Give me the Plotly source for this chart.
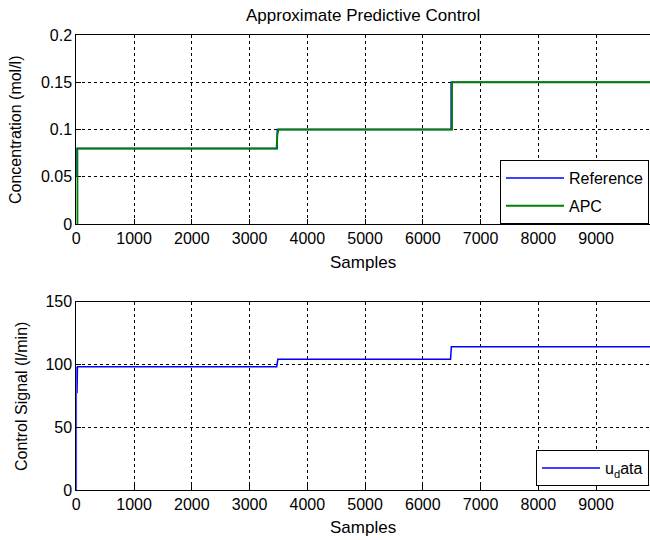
import plotly.graph_objects as go

# ---------------- data ----------------
ref_x = [0, 0, 3480, 3480, 6490, 6490, 10000]
ref_y = [0.05, 0.08, 0.08, 0.1, 0.1, 0.15, 0.15]

apc_x = [0, 18, 18, 3470, 3480, 3500, 6505, 6505, 10000]
apc_y = [0.0, 0.0, 0.08, 0.08, 0.094, 0.1, 0.1, 0.15, 0.15]

u_x = [0, 0, 12, 12, 20, 3470, 3490, 6480, 6495, 10000]
u_y = [0, 98, 98, 77, 98, 98, 104, 104, 114, 114]

x_ticks = [0, 1000, 2000, 3000, 4000, 5000, 6000, 7000, 8000, 9000]
y1_ticks = [0, 0.05, 0.1, 0.15, 0.2]
y1_labels = ["0", "0.05", "0.1", "0.15", "0.2"]
y2_ticks = [0, 50, 100, 150]

# ---------------- layout helpers ----------------
W, H = 650, 540
FONT = "Liberation Sans, Arial, sans-serif"
FS = 16


def px_x(p):
    return p / W


def px_y(p):
    return 1 - p / H


x_left = 76.3
x_right_val = (W - x_left) / 57.75 * 1000  # axis continues past window edge

fig = go.Figure()
fig.add_trace(go.Scatter(x=ref_x, y=ref_y, mode="lines", name="Reference",
                         line=dict(color="#0000ff", width=1.5), legendgroup="g1",
                         xaxis="x", yaxis="y", legend="legend"))
fig.add_trace(go.Scatter(x=apc_x, y=apc_y, mode="lines", name="APC",
                         line=dict(color="#008000", width=2), legendgroup="g2",
                         xaxis="x", yaxis="y", legend="legend"))
fig.add_trace(go.Scatter(x=u_x, y=u_y, mode="lines", name="u<sub>d</sub>ata",
                         line=dict(color="#0000ff", width=1.5),
                         xaxis="x2", yaxis="y2", legend="legend2"))

common_x = dict(
    range=[0, x_right_val], tickvals=x_ticks, ticktext=[str(t) for t in x_ticks],
    showgrid=True, gridcolor="black", griddash="3px,3px", gridwidth=1,
    showline=True, linecolor="black", linewidth=1, mirror=True,
    ticks="inside", ticklen=5, tickcolor="black", zeroline=False,
    tickfont=dict(family=FONT, size=FS, color="black"),
    domain=[px_x(x_left), 1], layer="below traces", fixedrange=True,
    automargin=False,
)
common_y = dict(
    showgrid=True, gridcolor="black", griddash="3px,3px", gridwidth=1,
    showline=True, linecolor="black", linewidth=1,
    ticks="inside", ticklen=5, tickcolor="black", zeroline=False,
    tickfont=dict(family=FONT, size=FS, color="black"),
    layer="below traces", fixedrange=True, automargin=False,
)

fig.update_layout(
    width=W, height=H,
    margin=dict(l=0, r=0, t=0, b=0, pad=0, autoexpand=False),
    paper_bgcolor="white", plot_bgcolor="white",
    font=dict(family=FONT, size=FS, color="black"),
    xaxis=dict(common_x, anchor="y"),
    yaxis=dict(common_y, anchor="x", range=[0, 0.2], tickvals=y1_ticks, ticktext=y1_labels,
               domain=[px_y(224), px_y(35)]),
    xaxis2=dict(common_x, anchor="y2"),
    yaxis2=dict(common_y, anchor="x2", range=[0, 150], tickvals=y2_ticks,
                ticktext=[str(t) for t in y2_ticks],
                domain=[px_y(490), px_y(301.5)]),
    legend=dict(x=px_x(500), y=px_y(160), xanchor="left", yanchor="top",
                bgcolor="white", bordercolor="black", borderwidth=1,
                tracegroupgap=4, itemwidth=58,
                font=dict(family=FONT, size=FS, color="black")),
    legend2=dict(x=px_x(536), y=px_y(450), xanchor="left", yanchor="top",
                 bgcolor="white", bordercolor="black", borderwidth=1,
                 itemwidth=58,
                 font=dict(family=FONT, size=FS, color="black")),
    showlegend=True,
)

ann = [
    dict(text="Approximate Predictive Control", x=px_x(363), y=px_y(15), size=17),
    dict(text="Samples", x=px_x(363), y=px_y(262), size=17),
    dict(text="Samples", x=px_x(363), y=px_y(527), size=17),
    dict(text="Concentration (mol/l)", x=px_x(16), y=px_y(130), textangle=-90, size=16),
    dict(text="Control Signal (l/min)", x=px_x(21), y=px_y(397), textangle=-90, size=16),
]
for a in ann:
    size = a.pop("size")
    fig.add_annotation(xref="paper", yref="paper", xanchor="center", yanchor="middle",
                       showarrow=False, font=dict(family=FONT, size=size, color="black"), **a)

fig.write_html("out.html", config={"displayModeBar": False},
               post_script="document.body.style.margin='0';document.body.style.padding='0';")
